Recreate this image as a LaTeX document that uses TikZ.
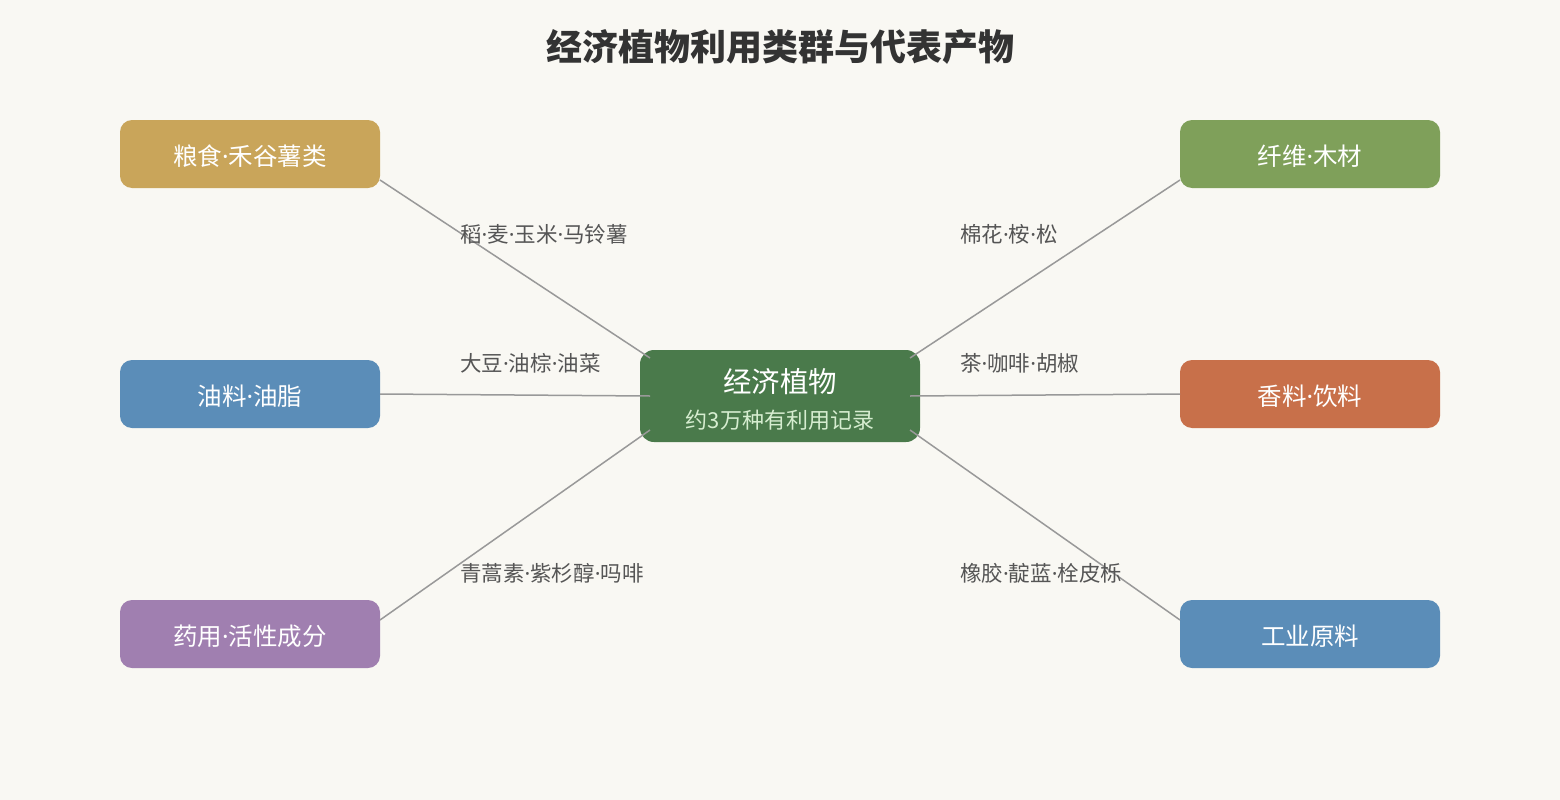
\documentclass[tikz,border=0pt]{standalone}
\usepackage{fontspec}
\setmainfont{Noto Sans CJK SC}
\newfontfamily\latinf{Noto Sans}
\newcommand{\md}{{\latinf ·}}
\definecolor{bg}{HTML}{F9F8F3}
\definecolor{cgold}{HTML}{C9A55A}
\definecolor{cblue}{HTML}{5B8DB8}
\definecolor{cpurple}{HTML}{A07FB0}
\definecolor{cgreen}{HTML}{4A7A4B}
\definecolor{colive}{HTML}{7FA05A}
\definecolor{corange}{HTML}{C8704A}
\definecolor{csub}{HTML}{D6EDD0}
\definecolor{ctitle}{HTML}{333333}
\definecolor{clabel}{HTML}{555555}
\definecolor{cline}{HTML}{999999}
\tikzset{
  catbox/.style={rounded corners=12pt, minimum width=260pt, minimum height=68pt, inner sep=0pt},
  cattext/.style={text=white, font=\fontsize{24.5}{28}\selectfont, inner sep=0pt},
  centerbox/.style={rounded corners=14pt, minimum width=280pt, minimum height=92pt, fill=cgreen, inner sep=0pt},
  conn/.style={draw=cline, line width=1.5pt},
  lbl/.style={anchor=west, text=clabel, font=\fontsize{21.5}{25}\selectfont, inner sep=0pt}
}
\begin{document}
\begin{tikzpicture}[x=1pt,y=-1pt]
\fill[bg] (0,0) rectangle (1560,800);
\useasboundingbox (0,0) rectangle (1560,800);
\node[font=\fontsize{36}{40}\selectfont\bfseries, text=ctitle] (title) at (780,47) {经济植物利用类群与代表产物};
% center
\node[centerbox] (c) at (780,396) {};
\node[text=white, font=\fontsize{28.5}{32}\selectfont, inner sep=0pt] (ct) at (780,382) {经济植物};
\node[text=csub, font=\fontsize{22}{26}\selectfont, inner sep=0pt] (cs) at (780,420) {约3万种有利用记录};
% categories
\node[catbox, fill=cgold] (a) at (250,154) {};
\node[catbox, fill=cblue] (b) at (250,394) {};
\node[catbox, fill=cpurple] (d) at (250,634) {};
\node[catbox, fill=colive] (e) at (1310,154) {};
\node[catbox, fill=corange] (f) at (1310,394) {};
\node[catbox, fill=cblue] (g) at (1310,634) {};
\node[cattext] (at) at ([yshift=-2pt]a.center) {粮食\md 禾谷薯类};
\node[cattext] (bt) at ([yshift=-2pt]b.center) {油料\md 油脂};
\node[cattext] (dt) at ([yshift=-2pt]d.center) {药用\md 活性成分};
\node[cattext] (et) at ([yshift=-2pt]e.center) {纤维\md 木材};
\node[cattext] (ft) at ([yshift=-2pt]f.center) {香料\md 饮料};
\node[cattext] (gt) at ([yshift=-2pt]g.center) {工业原料};
% connector endpoints
\coordinate (a1) at (380,180);
\coordinate (b1) at (380,394);
\coordinate (d1) at (380,620);
\coordinate (e1) at (1180,180);
\coordinate (f1) at (1180,394);
\coordinate (g1) at (1180,620);
\coordinate (ca) at (650,358);
\coordinate (cb) at (650,396);
\coordinate (cd) at (650,430);
\coordinate (ce) at (910,358);
\coordinate (cf) at (910,396);
\coordinate (cg) at (910,430);
\draw[conn] (a1) -- (ca);
\draw[conn] (b1) -- (cb);
\draw[conn] (d1) -- (cd);
\draw[conn] (e1) -- (ce);
\draw[conn] (f1) -- (cf);
\draw[conn] (g1) -- (cg);
% labels
\node[lbl] (la) at (460,234) {稻\md 麦\md 玉米\md 马铃薯};
\node[lbl] (lb) at (460,363) {大豆\md 油棕\md 油菜};
\node[lbl] (ld) at (460,573) {青蒿素\md 紫杉醇\md 吗啡};
\node[lbl] (le) at (960,234) {棉花\md 桉\md 松};
\node[lbl] (lf) at (960,363) {茶\md 咖啡\md 胡椒};
\node[lbl] (lg) at (960,573) {橡胶\md 靛蓝\md 栓皮栎};
\end{tikzpicture}
\end{document}
